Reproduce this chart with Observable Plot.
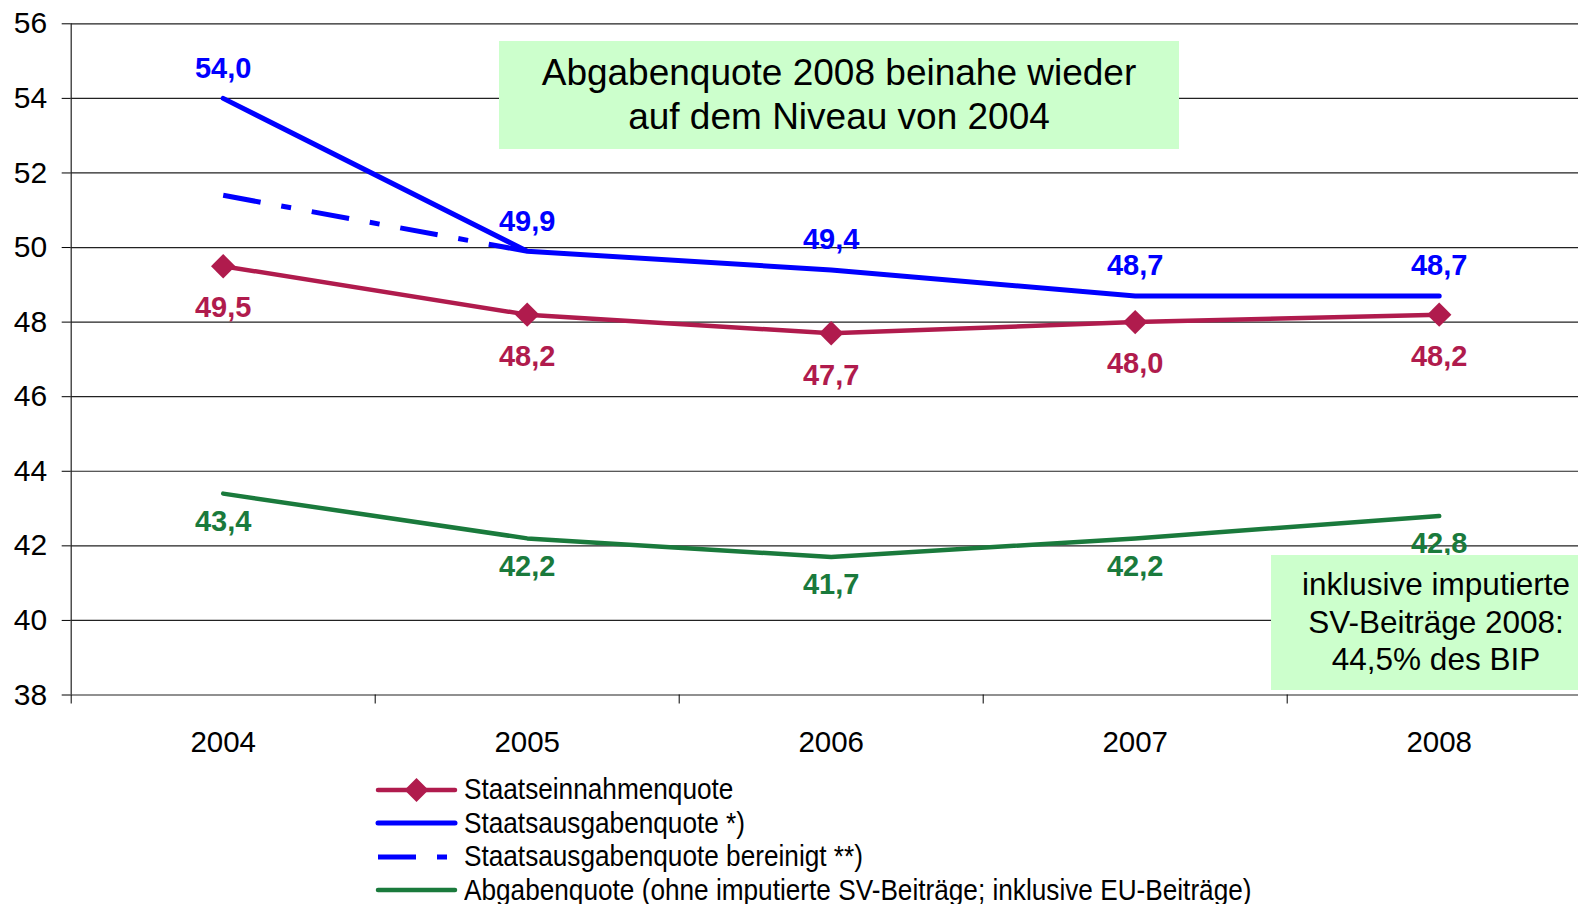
<!DOCTYPE html>
<html>
<head>
<meta charset="utf-8">
<script src="https://cdn.jsdelivr.net/npm/d3@7"></script>
<script src="https://cdn.jsdelivr.net/npm/@observablehq/plot@0.6"></script>
<style>
  html, body { margin: 0; padding: 0; background: #fff; overflow: hidden; width: 1578px; height: 904px; }
  body { position: relative; font-family: "Liberation Sans", Arial, sans-serif; }
  #chart { position: absolute; left: 0; top: 0; }
  .note { position: absolute; background: #ccffcc; color: #000; text-align: center; display: flex; align-items: center; justify-content: center; }
  #note1 { left: 499px; top: 41px; width: 680px; height: 108px; font-size: 37px; line-height: 44.5px; }
  #note2 { left: 1271px; top: 555px; width: 330px; height: 135px; font-size: 31.5px; line-height: 37.6px; }
  #legend { position: absolute; left: 375px; top: 773px; font-size: 26.2px; color: #000; }
  .row { display: flex; align-items: center; height: 33.5px; white-space: nowrap; }
  .row svg { margin-right: 6px; flex: none; }
  .row span { display: inline-block; transform: scaleY(1.12); transform-origin: 50% 55%; }
</style>
</head>
<body>
<div id="chart"></div>
<div class="note" id="note1"><div>Abgabenquote 2008 beinahe wieder<br>auf dem Niveau von 2004</div></div>
<div class="note" id="note2"><div>inklusive imputierte<br>SV-Beiträge 2008:<br>44,5% des BIP</div></div>
<div id="legend"></div>
<script>
const years = [2004, 2005, 2006, 2007, 2008];
const staatseinnahmen = [49.5, 48.2, 47.7, 48.0, 48.2];
const staatsausgaben = [54.0, 49.9, 49.4, 48.7, 48.7];
const bereinigtYears = [2004, 2005];
const staatsausgabenBereinigt = [51.4, 49.9];
const abgaben = [43.4, 42.2, 41.7, 42.2, 42.8];
const yTicks = [38, 40, 42, 44, 46, 48, 50, 52, 54, 56];
const seriesNames = [
  "Staatseinnahmenquote",
  "Staatsausgabenquote *)",
  "Staatsausgabenquote bereinigt **)",
  "Abgabenquote (ohne imputierte SV-Beiträge; inklusive EU-Beiträge)"
];

const C_RED = "#b01b4d", C_BLUE = "#0000ff", C_GREEN = "#1a7a3c";
const table = (xs, ys) => xs.map((x, i) => ({x, y: ys[i]}));
const fmt = v => v.toFixed(1).replace(".", ",");
const bounds = years.map(y => y - 0.5);

const ein = table(years, staatseinnahmen);
const aus = table(years, staatsausgaben);
const ber = table(bereinigtYears, staatsausgabenBereinigt);
const abg = table(years, abgaben);

const chart = Plot.plot({
  width: 1578, height: 770,
  marginLeft: 70.7, marginRight: 0, marginTop: 23.3, marginBottom: 75.5,
  x: {domain: [2003.5, 2008.5], range: [70.7, 1590.7]},
  y: {domain: [38, 56], range: [694.5, 23.3]},
  style: {fontFamily: "'Liberation Sans', Arial, sans-serif", fontSize: "29px", color: "#000", background: "transparent", overflow: "visible"},
  marks: [
    Plot.ruleY(yTicks, {stroke: "#222", strokeWidth: 1.2}),
    Plot.axisY({ticks: yTicks, tickSize: 9, tickPadding: 15, fontSize: 30, label: null, tickFormat: d => String(d)}),
    Plot.axisX({ticks: bounds, tickSize: 9, tickFormat: () => "", label: null}),
    Plot.axisX({ticks: years, tickSize: 0, tickPadding: 36, fontSize: 29.5, label: null, tickFormat: d => String(d)}),
    Plot.ruleX([2003.5], {y1: 38, y2: 56, stroke: "#222", strokeWidth: 1.2}),
    Plot.line(abg, {x: "x", y: "y", stroke: C_GREEN, strokeWidth: 4.5}),
    Plot.line(ein, {x: "x", y: "y", stroke: C_RED, strokeWidth: 4.5}),
    Plot.dot(ein, {x: "x", y: "y", symbol: "diamond2", r: 11, fill: C_RED}),
    Plot.line(ber, {x: "x", y: "y", stroke: C_BLUE, strokeWidth: 5, strokeDasharray: "38,21,10,21", strokeLinecap: "butt"}),
    Plot.line(aus, {x: "x", y: "y", stroke: C_BLUE, strokeWidth: 5}),
    Plot.text(aus, {x: "x", y: "y", text: d => fmt(d.y), fill: C_BLUE, fontWeight: "bold", fontSize: 29, dy: -30}),
    Plot.text(ein, {x: "x", y: "y", text: d => fmt(d.y), fill: C_RED, fontWeight: "bold", fontSize: 29, dy: 42}),
    Plot.text(abg, {x: "x", y: "y", text: d => fmt(d.y), fill: C_GREEN, fontWeight: "bold", fontSize: 29, dy: 28})
  ]
});
document.getElementById("chart").appendChild(chart);

// legend
const swatches = [
  `<svg width="83" height="24"><line x1="3" y1="12" x2="80" y2="12" stroke="${C_RED}" stroke-width="4.5" stroke-linecap="round"/><path d="M41.5,0 L53.5,12 L41.5,24 L29.5,12 Z" fill="${C_RED}"/></svg>`,
  `<svg width="83" height="24"><line x1="3" y1="12" x2="80" y2="12" stroke="${C_BLUE}" stroke-width="5" stroke-linecap="round"/></svg>`,
  `<svg width="83" height="24"><line x1="3" y1="12" x2="80" y2="12" stroke="${C_BLUE}" stroke-width="5" stroke-dasharray="38,21,10,21"/></svg>`,
  `<svg width="83" height="24"><line x1="3" y1="12" x2="80" y2="12" stroke="${C_GREEN}" stroke-width="4.5" stroke-linecap="round"/></svg>`
];
document.getElementById("legend").innerHTML = seriesNames
  .map((n, i) => `<div class="row">${swatches[i]}<span>${n}</span></div>`).join("");
</script>
</body>
</html>
